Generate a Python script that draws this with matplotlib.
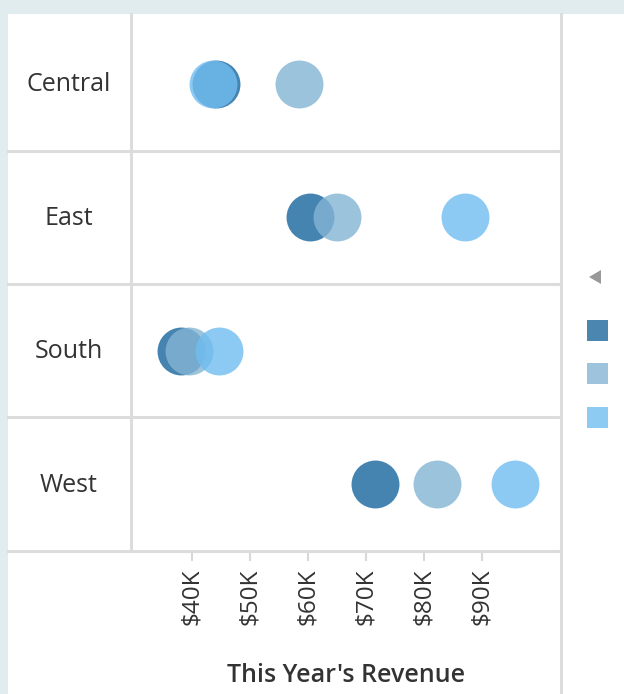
import numpy as np
import matplotlib
matplotlib.use("Agg")
import matplotlib.pyplot as plt
from matplotlib.patches import Rectangle, Polygon
from matplotlib.lines import Line2D
from matplotlib.ticker import FuncFormatter

# data (revenue in $K)
regions = ["Central", "East", "South", "West"]
series_dark = [44.2, 60.4, 38.1, 71.6]
series_mid = [58.4, 65.0, 39.5, 82.2]
series_light = [43.6, 87.1, 44.7, 95.7]
tick_values = [40, 50, 60, 70, 80, 90]
x_title = "This Year's Revenue"

# colours (base colour drawn with alpha 0.8) and legend swatches
mark_colors = ["#17669c", "#84b4d4", "#70bdf1"]
swatch_colors = ["#4a86b0", "#9dc3dd", "#8ecbf3"]

W, H = 624, 694
fig = plt.figure(figsize=(W / 100, H / 100), dpi=100, facecolor="white")
plt.rcParams['font.family'] = ['Open Sans', 'DejaVu Sans']

def fx(px):
    return px / W

def fy(py):
    return 1 - py / H

# page background strips (top and left)
bg = "#e1ecee"
fig.add_artist(Rectangle((0, fy(14)), 1, 14 / H, transform=fig.transFigure, color=bg, lw=0))
fig.add_artist(Rectangle((0, 0), fx(8), 1, transform=fig.transFigure, color=bg, lw=0))

top_px, bot_px = 17, 551
ax = fig.add_axes([fx(132), fy(bot_px), fx(560) - fx(132), fy(top_px) - fy(bot_px)])
ax.set_facecolor("white")

y = np.arange(len(regions))
for vals, c in zip([series_dark, series_mid, series_light], mark_colors):
    ax.scatter(vals, y, s=1190, color=c, alpha=0.8, linewidths=0, zorder=3)

ax.set_xlim(29.66, 103.45)
ax.set_ylim(len(regions) - 0.5, -0.5)
ax.set_yticks([])
ax.set_xticks(tick_values)
ax.xaxis.set_major_formatter(FuncFormatter(lambda v, p: "$%dK" % v))
ax.tick_params(axis="x", length=7.5, width=1.5, color="#d8d8d8", pad=5,
               labelsize=17.5, labelcolor="#333333", labelrotation=90)
for s in ax.spines.values():
    s.set_visible(False)

# grid lines of the table layout
grid = "#dcdcdc"
lw = 2.2
row_h = (bot_px - top_px) / len(regions)
for b in range(1, len(regions) + 1):
    yy = top_px + b * row_h
    fig.add_artist(Line2D([fx(8), fx(561)], [fy(yy), fy(yy)], color=grid, lw=lw,
                          transform=fig.transFigure))
fig.add_artist(Line2D([fx(131), fx(131)], [fy(14), fy(bot_px)], color=grid, lw=lw,
                      transform=fig.transFigure))
fig.add_artist(Line2D([fx(560.5), fx(560.5)], [fy(14), 0], color=grid, lw=lw,
                      transform=fig.transFigure))

# row headers
for i, r in enumerate(regions):
    yy = top_px + (i + 0.5) * row_h + 1
    fig.text(fx(69), fy(yy), r, ha="center", va="center", fontsize=18, color="#333333")

fig.text(fx(346), fy(676), x_title, ha="center", va="center", fontsize=18,
         fontweight="semibold", color="#333333")

# legend (labels cut off in the original)
fig.add_artist(Polygon([[fx(589), fy(277)], [fx(601), fy(270)], [fx(601), fy(284)]],
                       closed=True, color="#999999", transform=fig.transFigure, lw=0))
for k, c in enumerate(swatch_colors):
    top = [320, 363, 407][k]
    fig.add_artist(Rectangle((fx(587), fy(top + 21)), 21 / W, 21 / H, color=c, lw=0,
                             transform=fig.transFigure))

fig.savefig("out.png", dpi=100, facecolor="white")
